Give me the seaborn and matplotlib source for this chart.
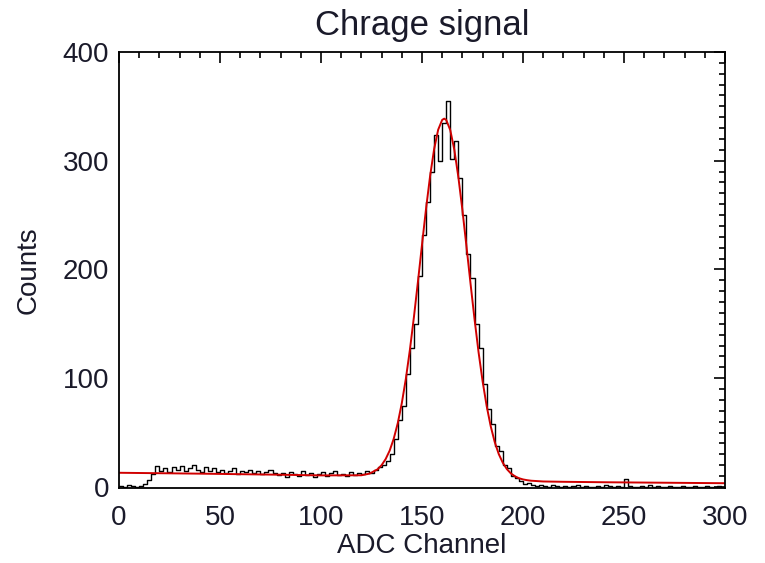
import numpy as np
import pandas as pd
import matplotlib
matplotlib.use("Agg")
import matplotlib.pyplot as plt
import seaborn as sns
from matplotlib.ticker import MultipleLocator

# histogram counts, 2-channel bins starting at channel 0
counts_start = [1, 0, 2, 1, 0, 1, 3, 6]
counts_flat_a = [12, 19, 15, 17, 14, 18, 16, 19, 15, 17, 20, 16, 14, 18, 15, 17]
counts_flat_b = [14, 16, 13, 15, 17, 12, 15, 14, 16, 13, 15, 12, 14, 16, 13, 11]
counts_flat_c = [13, 9, 14, 12, 10, 15, 11, 13, 9, 12, 14, 10, 13, 15, 11, 12, 10, 14, 11, 13]
counts_rise = [12, 15, 13, 16, 18, 20]
counts_peak = [24, 30, 44, 62, 74, 104, 128, 150, 194, 232, 262, 290, 324, 300, 335,
               355, 302, 318, 284, 250, 214, 192, 150, 128, 95, 72, 58, 38, 33, 20,
               17, 10, 8, 5, 3, 4, 2, 1, 2]
counts_tail = [1, 0, 2, 1, 0, 1, 0, 1, 2, 0, 1, 0, 0, 1, 0, 2, 1, 0, 1, 0,
               7, 1, 0, 0, 1, 0, 2, 0, 1, 0, 0, 1, 0, 0, 1, 0, 0, 1, 0, 0,
               1, 0, 0, 1, 0]

# fitted curve (red)
fit_x_left = [0, 20, 40, 60, 80, 100, 120, 124, 128, 130]
fit_y_left = [13.0, 12.6, 12.2, 11.7, 11.2, 10.6, 10.7, 12.2, 16.2, 20.0]
fit_x_peak = [132, 134, 136, 138, 140, 142, 144, 146, 148, 150, 152, 154, 156, 158,
              160, 161, 162, 164, 166, 168, 170, 172, 174, 176, 178, 180, 182, 184,
              186, 188, 190, 192, 194, 196, 198, 200, 202, 204]
fit_y_peak = [25.6, 33.4, 44.3, 58.6, 77.0, 99.4, 126.0, 156.2, 188.9, 222.8, 255.8,
              285.8, 310.7, 328.5, 337.6, 338.7, 337.5, 328.1, 310.1, 285.0, 254.7,
              221.5, 187.4, 154.4, 123.9, 97.2, 74.5, 55.9, 41.3, 30.2, 22.2, 16.4,
              12.4, 9.8, 8.0, 6.9, 6.2, 5.7]
fit_x_right = [210, 220, 240, 260, 280, 300]
fit_y_right = [5.0, 4.7, 4.3, 4.0, 3.7, 3.4]

counts = (counts_start + counts_flat_a + counts_flat_b + counts_flat_c
          + counts_rise + counts_peak + counts_tail)
bin_edges = [2 * i for i in range(len(counts) + 1)]
hist_df = pd.DataFrame({"channel": bin_edges[:-1], "counts": counts})
fit_df = pd.DataFrame({"channel": fit_x_left + fit_x_peak + fit_x_right,
                       "counts": fit_y_left + fit_y_peak + fit_y_right})

sns.set_style("white")
plt.rcParams["font.family"] = ["Liberation Sans", "DejaVu Sans"]
text_color = "#1a1a2a"

fig = plt.figure(figsize=(7.65, 5.63), dpi=100)
ax = fig.add_axes([119 / 765, 1 - 488 / 563, 606 / 765, 436 / 563])

sns.histplot(data=hist_df, x="channel", weights="counts", bins=bin_edges,
             element="step", fill=False, color="black", linewidth=1.0, ax=ax)
sns.lineplot(data=fit_df, x="channel", y="counts", color="#d00000",
             linewidth=1.4, ax=ax)

ax.set_xlim(0, 300)
ax.set_ylim(-1, 400)
ax.xaxis.set_major_locator(MultipleLocator(50))
ax.xaxis.set_minor_locator(MultipleLocator(10))
ax.yaxis.set_major_locator(MultipleLocator(100))
ax.yaxis.set_minor_locator(MultipleLocator(10))

for side in ["top", "right", "bottom", "left"]:
    ax.spines[side].set_visible(True)
    ax.spines[side].set_color("black")
    ax.spines[side].set_linewidth(1.3)

ax.tick_params(which="both", direction="in", top=True, right=True,
               color="black", width=1.2, labelcolor=text_color)
ax.tick_params(which="major", length=8)
ax.tick_params(which="minor", length=4.5)
ax.tick_params(axis="x", which="major", labelsize=20, pad=12)
ax.tick_params(axis="y", which="major", labelsize=20, pad=7)

ax.set_title("Chrage signal", fontsize=25, color=text_color, pad=12)
ax.set_xlabel("ADC Channel", fontsize=20, color=text_color, labelpad=2)
ax.set_ylabel("Counts", fontsize=20, color=text_color, labelpad=15)
ax.grid(False)

fig.savefig("out.png", dpi=100)
